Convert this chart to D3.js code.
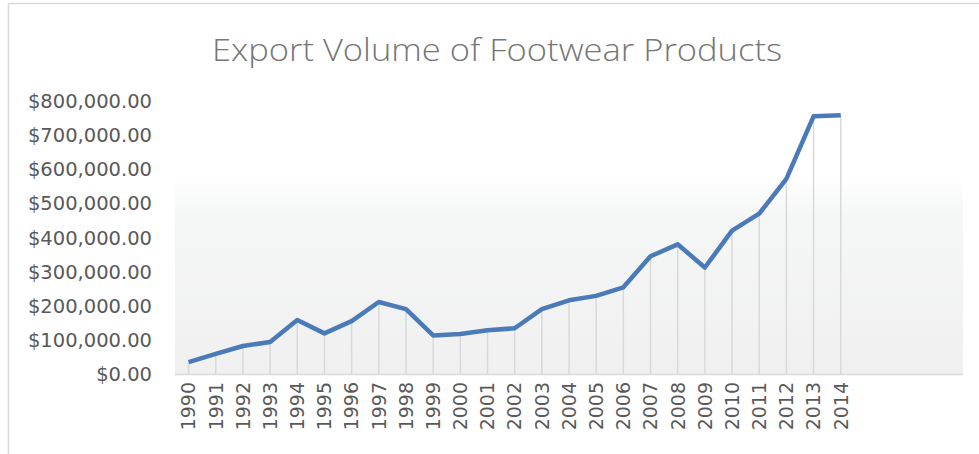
<!DOCTYPE html>
<html><head><meta charset="utf-8">
<script src="https://cdn.jsdelivr.net/npm/d3@7"></script>
<style>html,body{margin:0;padding:0;background:#fff;}svg{display:block;}</style>
</head><body>
<script>
const years = ["1990","1991","1992","1993","1994","1995","1996","1997","1998","1999","2000","2001","2002","2003","2004","2005","2006","2007","2008","2009","2010","2011","2012","2013","2014"];
const exportValues = [35000,59000,82000,94000,158000,119000,155000,211000,190000,113000,117000,128000,134000,190000,216000,229000,254000,345000,380000,312000,420000,470000,572000,755000,758000];
const yTicks = [0,100000,200000,300000,400000,500000,600000,700000,800000];
const title = "Export Volume of Footwear Products";
const slotCount = 29; // category slots along axis (last ones empty)

const W = 979, H = 454;
const svg = d3.select("body").append("svg").attr("width", W).attr("height", H);

// outer chart frame
svg.append("line").attr("x1",8.5).attr("x2",8.5).attr("y1",3.5).attr("y2",H).attr("stroke","#d9d9d9").attr("stroke-width",1.5);
svg.append("line").attr("x1",8.5).attr("x2",W).attr("y1",3.5).attr("y2",3.5).attr("stroke","#d9d9d9").attr("stroke-width",1.5);

const x = d3.scaleBand().domain(d3.range(slotCount)).range([175, 963]);
const y = d3.scaleLinear().domain([0, 800000]).range([374, 101]);

// plot area gradient
const defs = svg.append("defs");
const grad = defs.append("linearGradient").attr("id","pg").attr("x1",0).attr("x2",0).attr("y1",0).attr("y2",1);
grad.append("stop").attr("offset","0%").attr("stop-color","#fdfdfd");
grad.append("stop").attr("offset","18%").attr("stop-color","#f5f6f6");
grad.append("stop").attr("offset","100%").attr("stop-color","#f0f0f0");
svg.append("rect").attr("x",175).attr("y",183).attr("width",963-175).attr("height",374-183).attr("fill","url(#pg)");

// title
svg.append("text").attr("x",497).attr("y",61).attr("text-anchor","middle")
  .attr("font-family","Open Sans, Noto Sans, sans-serif").attr("font-size",31).attr("font-weight",300).attr("fill","#767676")
  .attr("textLength",570).attr("lengthAdjust","spacingAndGlyphs").text(title);

// y axis labels
const fmt = d3.format("$,.2f");
svg.append("g").selectAll("text").data(yTicks).join("text")
  .attr("x",152).attr("y",d=>y(d)).attr("dy","0.36em").attr("text-anchor","end")
  .attr("font-family","DejaVu Sans, sans-serif").attr("font-size",19.5).attr("fill","#595959")
  .text(d=>fmt(d));

// drop lines
svg.append("g").selectAll("line").data(exportValues).join("line")
  .attr("x1",(d,i)=>x(i)+x.bandwidth()/2).attr("x2",(d,i)=>x(i)+x.bandwidth()/2)
  .attr("y1",d=>y(d)).attr("y2",y(0))
  .attr("stroke","#d9d9d9").attr("stroke-width",1.5);

// x axis line
svg.append("line").attr("x1",175).attr("x2",963).attr("y1",y(0)+0.5).attr("y2",y(0)+0.5).attr("stroke","#d9d9d9").attr("stroke-width",1.5);

// series line
const line = d3.line().x((d,i)=>x(i)+x.bandwidth()/2).y(d=>y(d));
svg.append("path").datum(exportValues).attr("d",line).attr("fill","none")
  .attr("stroke","#4a7ab7").attr("stroke-width",4.5).attr("stroke-linejoin","round");

// x labels
svg.append("g").selectAll("text").data(years).join("text")
  .attr("transform",(d,i)=>`translate(${x(i)+x.bandwidth()/2},382) rotate(-90)`)
  .attr("dy","0.36em").attr("text-anchor","end")
  .attr("font-family","DejaVu Sans, sans-serif").attr("font-size",19).attr("fill","#595959")
  .text(d=>d);
</script>
</body></html>
